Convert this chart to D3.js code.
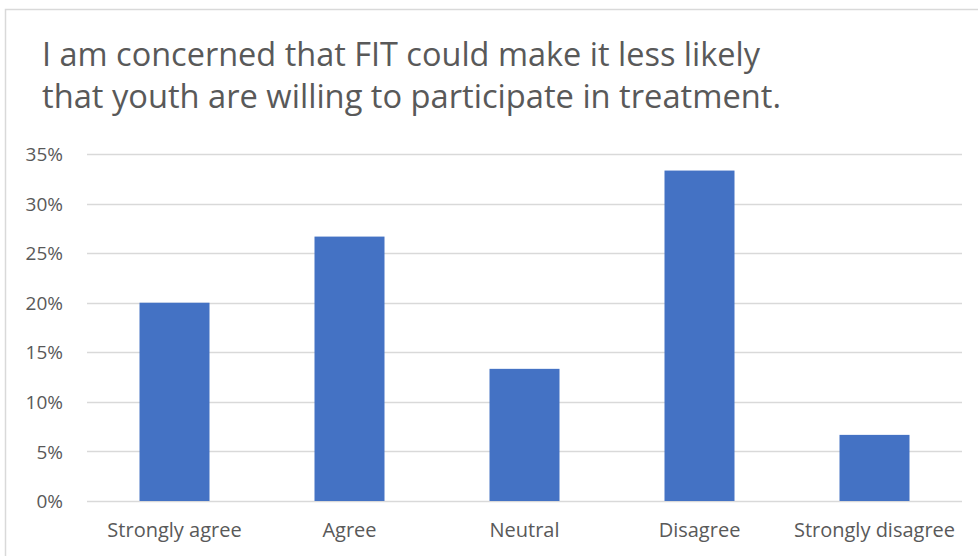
<!DOCTYPE html>
<html>
  <head>
    <meta charset="utf-8">
    <script src="https://d3js.org/d3.v7.min.js"></script>
    <style>
    body { margin: 0; background-color: #fff; }
    svg { display: block; }
    </style>
  </head>
  <body>
    <script>
      const categories = ['Strongly agree', 'Agree', 'Neutral', 'Disagree', 'Strongly disagree']
      const values = [0.20, 0.2667, 0.1333, 0.3333, 0.0667]
      const yTicks = [0, 0.05, 0.10, 0.15, 0.20, 0.25, 0.30, 0.35]
      const titleLines = ['I am concerned that FIT could make it less likely',
                          'that youth are willing to participate in treatment.']

      let w = 978, h = 556
      let font = "'Open Sans', 'Liberation Sans', sans-serif"
      let svg = d3.select('body').append('svg')
                  .attr('width', w).attr('height', h)

      // chart frame (runs off right/bottom)
      svg.append('rect')
         .attr('x', 5.5).attr('y', 9.5)
         .attr('width', 1000).attr('height', 600)
         .attr('fill', '#fff').attr('stroke', '#d9d9d9').attr('stroke-width', 1.5)

      // title
      let titleWidths = [718, 739]
      svg.append('g').selectAll('text')
         .data(titleLines)
         .enter().append('text')
         .attr('x', 42)
         .attr('y', (d, i) => 66 + i * 42)
         .attr('textLength', (d, i) => titleWidths[i])
         .attr('lengthAdjust', 'spacingAndGlyphs')
         .style('font-family', font)
         .style('font-size', '32px')
         .style('fill', '#595959')
         .text(d => d)

      let xScale = d3.scaleBand()
                     .domain(categories)
                     .range([87, 962])
                     .paddingInner(0.6)
                     .paddingOuter(0.3)
      let yScale = d3.scaleLinear()
                     .domain([0, 0.35])
                     .range([501, 154])

      // gridlines
      svg.append('g').selectAll('line')
         .data(yTicks)
         .enter().append('line')
         .attr('x1', 87).attr('x2', 962)
         .attr('y1', d => Math.round(yScale(d)) + 0.5)
         .attr('y2', d => Math.round(yScale(d)) + 0.5)
         .attr('stroke', '#d9d9d9')
         .attr('stroke-width', 1.5)

      // y axis
      let yAxis = svg.append('g')
         .attr('transform', 'translate(63, 0)')
         .call(d3.axisLeft(yScale).tickValues(yTicks).tickFormat(d3.format('.0%')).tickSize(0).tickPadding(0))
      yAxis.select('.domain').remove()
      yAxis.selectAll('text')
           .attr('dy', '0.35em')
           .style('font-family', font)
           .style('font-size', '19px')
           .style('fill', '#595959')

      // bars
      svg.append('g').selectAll('rect')
         .data(values)
         .enter().append('rect')
         .attr('x', (d, i) => xScale(categories[i]))
         .attr('y', d => yScale(d))
         .attr('width', xScale.bandwidth())
         .attr('height', d => yScale(0) - yScale(d))
         .attr('fill', '#4472c4')

      // x axis
      let xAxis = svg.append('g')
         .attr('transform', 'translate(0, 537)')
         .call(d3.axisBottom(xScale).tickSize(0).tickPadding(0))
      xAxis.select('.domain').remove()
      xAxis.selectAll('text')
           .attr('y', 0)
           .attr('dy', 0)
           .style('font-family', font)
           .style('font-size', '20px')
           .style('fill', '#595959')
    </script>
  </body>
</html>
